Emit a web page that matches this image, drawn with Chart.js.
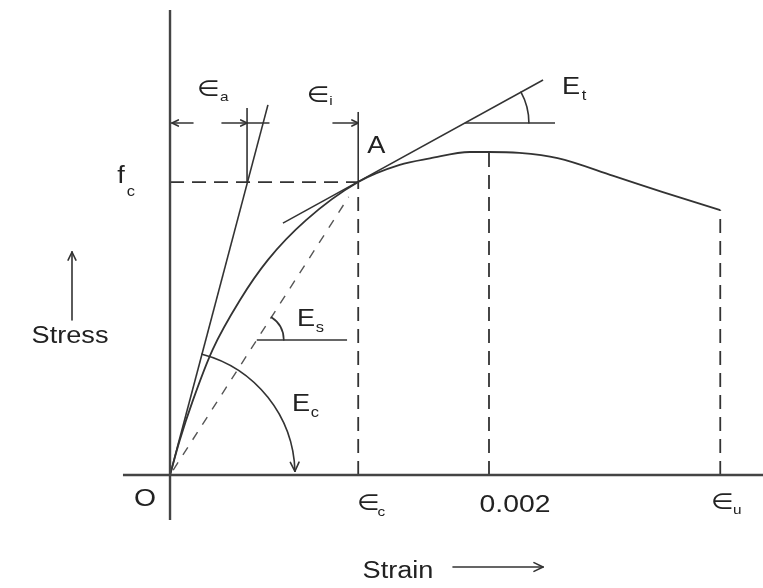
<!DOCTYPE html>
<html>
<head>
<meta charset="utf-8">
<script src="https://cdn.jsdelivr.net/npm/chart.js@4.4.1/dist/chart.umd.min.js"></script>
<style>
  html, body { margin: 0; padding: 0; background: #ffffff; }
  canvas { display: block; }
</style>
</head>
<body>
<canvas id="c" width="763" height="588"></canvas>
<script>
// ---------- data (strain in ‰, stress as fraction of peak) ----------
const strain = [0, 0.061, 0.144, 0.266, 0.439, 0.614, 0.853, 1.18, 1.44, 1.63, 1.88, 2.00, 2.19, 2.43, 2.78, 3.09, 3.45];
const stress = [0, 0.108, 0.232, 0.387, 0.542, 0.666, 0.789, 0.907, 0.96, 0.98, 1.00, 1.00, 0.997, 0.981, 0.926, 0.876, 0.82];

const strainA = 1.18;        // point A (∈c)
const stressA = 0.907;       // f_c level
const strainPeak = 2.0;      // 0.002
const stressPeak = 1.0;
const strainUlt = 3.45;      // ∈u
const stressUlt = 0.82;
const strainEa = 0.483;      // ∈a marker

const initialTangentX = [0, 0.614];
const initialTangentY = [0, 1.146];
const tangentAX = [0.708, 2.339];
const tangentAY = [0.780, 1.223];
const secantX = [0.02, 1.12];
const secantY = [0.0154, 0.861];

const tickLabels = ['O', '∈', '0.002', '∈'];
const tickSubs = ['', 'c', '', 'u'];

// ---------- build datasets ----------
const ink = '#333333';
function seg(xs, ys, opts) {
  return Object.assign({
    data: xs.map((x, i) => ({ x: x, y: ys[i] })),
    showLine: true, pointRadius: 0, borderColor: ink, borderWidth: 1.6, fill: false
  }, opts || {});
}
const datasets = [
  // axes
  seg([-0.295, 3.718], [0, 0], { borderWidth: 2.4, borderColor: '#444' }),
  seg([0, 0], [-0.139, 1.44], { borderWidth: 2.4, borderColor: '#444' }),
  // stress-strain curve
  seg(strain, stress, { borderWidth: 1.8, cubicInterpolationMode: 'monotone' }),
  // initial tangent
  seg(initialTangentX, initialTangentY, { borderWidth: 1.6 }),
  // tangent at A
  seg(tangentAX, tangentAY, { borderWidth: 1.5 }),
  // secant (dashed)
  seg(secantX, secantY, { borderWidth: 1.4, borderDash: [9, 9], borderColor: '#555' }),
  // f_c dashed horizontal
  seg([0, strainA], [stressA, stressA], { borderWidth: 1.8, borderDash: [14, 8] }),
  // dashed verticals
  seg([strainA, strainA], [0, stressA], { borderWidth: 1.8, borderDash: [14, 8] }),
  seg([strainPeak, strainPeak], [0, stressPeak], { borderWidth: 1.8, borderDash: [14, 8] }),
  seg([strainUlt, strainUlt], [0, stressUlt], { borderWidth: 1.8, borderDash: [14, 8] }),
  // solid verticals for ∈i and ∈a
  seg([strainA, strainA], [stressA, 1.124], { borderWidth: 1.6 }),
  seg([strainEa, strainEa], [stressA, 1.136], { borderWidth: 1.6 }),
  // horizontal reference lines for E_t and E_s
  seg([1.849, 2.414], [1.0898, 1.0898], { borderWidth: 1.6 }),
  seg([0.544, 1.110], [0.418, 0.418], { borderWidth: 1.6 })
];

// ---------- annotation plugin ----------
const annot = {
  id: 'annot',
  afterDatasetsDraw(chart) {
    const ctx = chart.ctx;
    const xs = chart.scales.x, ys = chart.scales.y;
    const px = v => xs.getPixelForValue(v);
    const py = v => ys.getPixelForValue(v);
    ctx.save();
    ctx.strokeStyle = ink;
    ctx.fillStyle = '#222';
    ctx.lineWidth = 1.6;
    ctx.lineCap = 'round';

    function line(x1, y1, x2, y2) { ctx.beginPath(); ctx.moveTo(x1, y1); ctx.lineTo(x2, y2); ctx.stroke(); }
    function head(x, y, ang, s) {
      const a = 0.45;
      line(x, y, x - s * Math.cos(ang - a), y - s * Math.sin(ang - a));
      line(x, y, x - s * Math.cos(ang + a), y - s * Math.sin(ang + a));
    }
    function arrow(x1, y1, x2, y2, s) {
      line(x1, y1, x2, y2);
      head(x2, y2, Math.atan2(y2 - y1, x2 - x1), s || 8);
    }
    function txt(s, x, y, size, align) {
      ctx.save();
      ctx.translate(x, y);
      ctx.scale(1.18, 1);
      ctx.font = size + 'px "Liberation Sans", Arial, "DejaVu Sans", sans-serif';
      ctx.textAlign = align || 'center';
      ctx.textBaseline = 'middle';
      ctx.fillText(s, 0, 0);
      ctx.restore();
    }

    // strain arrows at top
    const ya = py(1.0898);
    arrow(px(0.144), ya, px(0.0125), ya, 7);
    arrow(px(0.326), ya, px(strainEa), ya, 7);
    line(px(strainEa), ya, px(0.62), ya);
    arrow(px(1.022), ya, px(strainA), ya, 7);

    // E_t angle arc
    const vtx = px(1.849), vty = ya;
    const angT = Math.atan2(py(tangentAY[1]) - py(tangentAY[0]), px(tangentAX[1]) - px(tangentAX[0]));
    ctx.beginPath(); ctx.arc(vtx, vty, 64, angT, 0); ctx.stroke();

    // E_s angle arc
    const vsx = px(0.544), vsy = py(0.418);
    const angS = Math.atan2(py(secantY[1]) - py(secantY[0]), px(secantX[1]) - px(secantX[0]));
    ctx.beginPath(); ctx.arc(vsx, vsy, 27, angS, 0); ctx.stroke();

    // E_c arc centred on the origin with arrow
    const ox = px(0), oy = py(0);
    const angC = Math.atan2(py(initialTangentY[1]) - oy, px(initialTangentX[1]) - ox);
    const R = 125, endA = -0.03;
    ctx.beginPath(); ctx.arc(ox, oy, R, angC, endA); ctx.stroke();
    const ex = ox + R * Math.cos(endA), ey = oy + R * Math.sin(endA);
    head(ex, ey, endA + Math.PI / 2, 10);

    // Stress arrow and Strain arrow
    arrow(72, 320, 72, 252, 9);
    arrow(453, 567, 543, 567, 10);

    // labels
    txt('Stress', 70, 337, 23);
    txt('Strain', 398, 572, 23);

    txt('f', 121, py(stressA) - 5, 23);
    txt('c', 131, py(stressA) + 10, 14);

    txt('∈', px(0.24), 90, 22);
    txt('a', px(0.24) + 16, 97, 13);
    txt('∈', 318, 96, 22);
    txt('i', 331, 101, 13);
    txt('A', px(strainA) + 18, 147, 23);
    txt('E', 571, 88, 23);
    txt('t', 584, 96, 14);
    txt('E', 306, 320, 23);
    txt('s', 320, 328, 14);
    txt('E', 301, 405, 23);
    txt('c', 315, 413, 14);

    // tick labels
    const tickX = [null, strainA, strainPeak, strainUlt];
    txt(tickLabels[0], px(0) - 25, 499, 24);
    txt(tickLabels[1], px(tickX[1]) + 10, 504, 22);
    txt(tickSubs[1], px(tickX[1]) + 23, 512, 13);
    txt(tickLabels[2], px(tickX[2]) + 26, 505, 24);
    txt(tickLabels[3], px(tickX[3]) + 2, 503, 22);
    txt(tickSubs[3], px(tickX[3]) + 17, 510, 13);

    ctx.restore();
  }
};

new Chart(document.getElementById('c'), {
  type: 'scatter',
  data: { datasets: datasets },
  options: {
    responsive: false,
    animation: false,
    devicePixelRatio: 1,
    layout: { padding: 0 },
    plugins: { legend: { display: false }, tooltip: { enabled: false } },
    scales: {
      x: { type: 'linear', min: -1.066, max: 3.718, display: false },
      y: { type: 'linear', min: -0.3498, max: 1.4706, display: false }
    }
  },
  plugins: [annot]
});
</script>
</body>
</html>
